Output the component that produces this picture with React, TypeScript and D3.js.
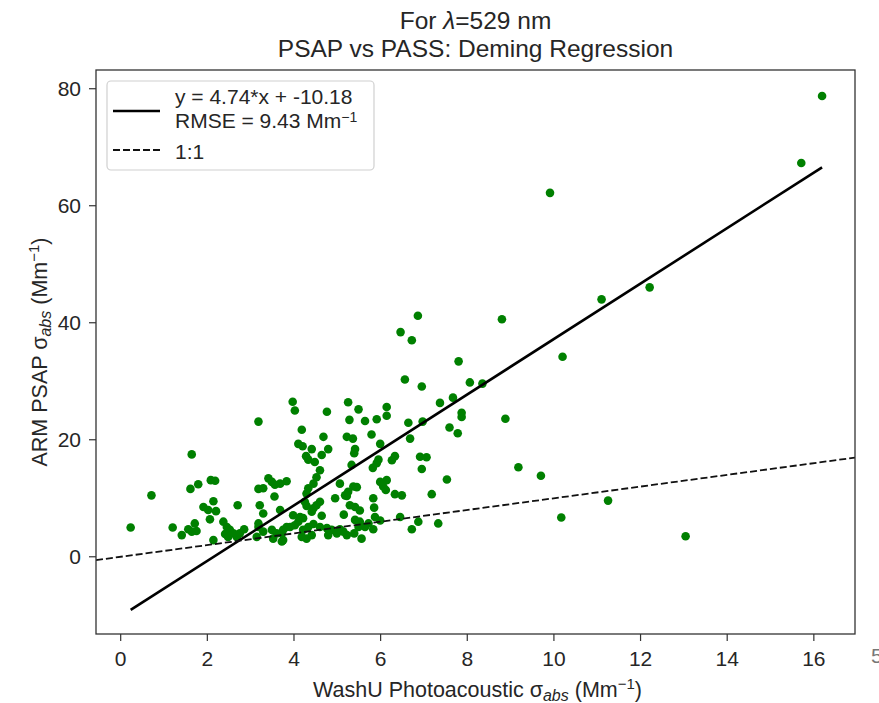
import React from "react";
import * as d3 from "d3";

// ---------- data (WashU Photoacoustic σabs, ARM PSAP σabs) ----------
const washuX: number[] = [
  3.18, 1.64, 0.71, 0.23, 1.61, 1.79, 2.08, 2.18, 2.14, 1.91, 2.02, 2.2, 2.06, 2.7, 1.2, 1.41, 1.56, 1.71, 1.75, 1.64,
  2.14, 2.37, 2.45, 2.52, 2.6, 2.68, 2.41, 2.48, 2.75, 2.85, 3.21, 3.29, 3.18, 3.41, 3.49, 3.56, 3.29, 3.18, 3.55, 3.68,
  3.6, 3.49, 3.72, 3.52, 3.14, 3.18, 3.29,
  6.56, 6.95, 8.06, 3.97, 4.02, 5.25, 5.49, 6.14, 6.14, 7.37, 7.67, 7.87, 7.87, 4.76, 5.28, 5.64, 5.91, 6.64, 6.97, 7.59,
  7.78, 4.18, 4.68, 5.22, 5.36, 5.79, 6.68, 4.1, 4.2, 4.41, 4.79, 4.64, 4.28, 4.33, 4.48, 5.41, 5.39, 5.99, 6.33, 6.26,
  5.95, 5.91, 5.82, 6.91, 7.06, 6.95, 5.33, 4.6, 4.52, 4.45, 4.33, 4.29, 3.68, 3.83, 5.06, 5.37, 5.25, 5.18, 5.99, 6.14,
  6.06, 6.12, 6.33, 6.49, 7.53, 7.18, 5.83, 4.95, 4.25, 4.29, 4.6, 4.52, 4.45, 4.41, 5.22, 5.45, 5.29, 5.41, 5.52, 5.85,
  5.87, 5.15, 4.64, 3.98, 4.14, 4.21, 4.1, 4.02, 3.91, 3.83, 3.75, 4.45, 4.33, 4.6, 4.76, 4.87, 4.79, 4.99, 5.06, 5.14,
  5.41, 5.52, 5.49, 5.64, 5.72, 5.99, 5.83, 5.39, 5.56, 5.22, 6.72, 6.87, 7.33, 6.45, 3.75, 3.72, 4.18, 4.29, 4.41, 4.21,
  6.86, 6.46, 6.72, 7.8, 8.35, 8.88, 9.18, 9.7, 11.25, 10.17, 13.04, 12.21, 11.1, 8.8, 10.2, 9.91, 15.71, 16.19,
];
const psapY: number[] = [
  23.1, 17.5, 10.5, 5.0, 11.6, 12.4, 13.1, 13.0, 9.5, 8.5, 8.0, 7.8, 6.4, 8.8, 5.0, 3.7, 4.7, 5.7, 4.4, 4.3,
  2.85, 6.0, 5.1, 4.6, 4.0, 3.4, 3.9, 3.4, 4.0, 4.7, 8.8, 7.4, 5.7, 13.4, 12.8, 12.3, 11.7, 11.6, 10.3, 8.0,
  4.0, 4.6, 2.6, 3.1, 3.4, 5.1, 4.3,
  30.3, 29.1, 29.8, 26.5, 25.0, 26.4, 25.2, 25.6, 24.1, 26.3, 27.2, 24.6, 23.9, 24.8, 23.4, 23.2, 23.5, 22.9, 23.1, 22.1,
  21.1, 21.7, 20.5, 20.5, 20.2, 20.9, 20.2, 19.3, 18.9, 18.4, 18.4, 17.4, 17.2, 16.6, 16.2, 18.4, 17.7, 19.3, 17.2, 16.5,
  16.6, 16.0, 15.2, 17.1, 17.0, 15.0, 15.7, 14.8, 13.6, 12.5, 11.7, 10.8, 12.5, 12.9, 12.5, 12.0, 11.1, 10.5, 12.8, 13.1,
  12.0, 11.4, 10.7, 10.5, 13.2, 10.7, 10.0, 10.0, 9.4, 8.7, 9.4, 8.8, 8.3, 7.7, 10.4, 11.9, 8.8, 8.5, 7.9, 8.4,
  6.8, 7.2, 7.0, 7.1, 6.8, 6.6, 6.0, 5.4, 5.1, 5.1, 4.6, 5.6, 5.1, 5.1, 4.9, 4.6, 3.7, 4.0, 4.7, 4.3,
  6.3, 6.0, 5.1, 5.1, 5.7, 6.2, 4.7, 4.0, 3.1, 3.7, 4.7, 6.0, 5.7, 6.8, 2.85, 4.0, 3.4, 3.1, 3.7, 4.6,
  41.2, 38.4, 37.0, 33.4, 29.6, 23.6, 15.3, 13.85, 9.6, 6.7, 3.5, 46.05, 44.0, 40.6, 34.2, 62.2, 67.3, 78.75,
];

const fitSlope = 4.74;
const fitIntercept = -10.18;
const rmseValue = 9.43;

const xTicks: number[] = [0, 2, 4, 6, 8, 10, 12, 14, 16];
const yTicks: number[] = [0, 20, 40, 60, 80];
const xDomain: [number, number] = [-0.57, 16.95];
const yDomain: [number, number] = [-13.2, 83.2];

const titleLine1 = "For ";
const titleLine2 = "PSAP vs PASS: Deming Regression";

// ---------- layout ----------
const W = 879;
const H = 703;
const L = 96;
const R = 855;
const T = 70;
const B = 634;
const FONT = "'Liberation Sans', Arial, Helvetica, sans-serif";
const TXT = "#262626";
const FS = 21;

export default function App() {
  const x = d3.scaleLinear().domain(xDomain).range([L, R]);
  const y = d3.scaleLinear().domain(yDomain).range([B, T]);

  const points = washuX.map((v, i) => ({ x: v, y: psapY[i] }));
  const [xmin, xmax] = d3.extent(washuX) as [number, number];
  const fitLine = d3.line<number>()
    .x((d) => x(d))
    .y((d) => y(fitSlope * d + fitIntercept))([xmin, xmax]) as string;
  const oneLine = d3.line<number>()
    .x((d) => x(d))
    .y((d) => y(d))(xDomain) as string;

  const cx = (L + R) / 2;

  return (
    <svg
      width={W}
      height={H}
      style={{ position: "absolute", left: 0, top: 0, background: "#fff" }}
      fontFamily={FONT}
    >
      <rect x={0} y={0} width={W} height={H} fill="#fff" />
      {/* title */}
      <text x={cx} y={29} textAnchor="middle" fontSize={24.5} fill={TXT}>
        {titleLine1}
        <tspan fontStyle="italic">λ</tspan>
        =529 nm
      </text>
      <text x={cx} y={57} textAnchor="middle" fontSize={24.5} fill={TXT}>
        {titleLine2}
      </text>

      <defs>
        <clipPath id="plotclip">
          <rect x={L} y={T} width={R - L} height={B - T} />
        </clipPath>
      </defs>

      <g clipPath="url(#plotclip)">
        {points.map((p, i) => (
          <circle key={i} cx={x(p.x)} cy={y(p.y)} r={4.3} fill="#008000" />
        ))}
        <path d={fitLine} stroke="#000" strokeWidth={2.6} fill="none" />
        <path d={oneLine} stroke="#111" strokeWidth={1.8} strokeDasharray="7,3" fill="none" />
      </g>

      {/* frame */}
      <rect x={L} y={T} width={R - L} height={B - T} fill="none" stroke="#333" strokeWidth={1.3} />

      {/* x ticks */}
      {xTicks.map((t) => (
        <g key={"x" + t}>
          <line x1={x(t)} x2={x(t)} y1={B} y2={B + 7} stroke="#333" strokeWidth={1.2} />
          <text x={x(t)} y={666} textAnchor="middle" fontSize={FS} fill={TXT}>
            {t}
          </text>
        </g>
      ))}
      {/* y ticks */}
      {yTicks.map((t) => (
        <g key={"y" + t}>
          <line x1={L - 7} x2={L} y1={y(t)} y2={y(t)} stroke="#333" strokeWidth={1.2} />
          <text x={81} y={y(t) + 7.5} textAnchor="end" fontSize={FS} fill={TXT}>
            {t}
          </text>
        </g>
      ))}

      {/* axis labels */}
      <text x={cx + 2} y={697} textAnchor="middle" fontSize={21.5} fill={TXT}>
        WashU Photoacoustic σ
        <tspan fontStyle="italic" fontSize={16} dy={4}>abs</tspan>
        <tspan dy={-4}> (Mm</tspan>
        <tspan fontSize={15} dy={-8}>−1</tspan>
        <tspan dy={8}>)</tspan>
      </text>
      <text
        transform={`translate(47,${(T + B) / 2}) rotate(-90)`}
        textAnchor="middle"
        fontSize={21.5}
        fill={TXT}
      >
        ARM PSAP σ
        <tspan fontStyle="italic" fontSize={16} dy={4}>abs</tspan>
        <tspan dy={-4}> (Mm</tspan>
        <tspan fontSize={15} dy={-8}>−1</tspan>
        <tspan dy={8}>)</tspan>
      </text>

      {/* legend */}
      <rect x={107} y={81} width={267} height={89} rx={4} fill="#fff" fillOpacity={0.8} stroke="#d0d0d0" strokeWidth={1.2} />
      <line x1={113} x2={160} y1={111} y2={111} stroke="#000" strokeWidth={2.6} />
      <text x={175} y={104} fontSize={FS} fill={TXT}>
        y = {fitSlope}*x + {fitIntercept}
      </text>
      <text x={175} y={128} fontSize={FS} fill={TXT}>
        RMSE = {rmseValue} Mm
        <tspan fontSize={14} dy={-6}>−1</tspan>
      </text>
      <line x1={113} x2={160} y1={150} y2={150} stroke="#111" strokeWidth={1.8} strokeDasharray="7,3" />
      <text x={175} y={159} fontSize={FS} fill={TXT}>
        1:1
      </text>

      {/* stray glyph partly cropped at the right edge, as in the reference */}
      <text x={871} y={663} fontSize={21} fill="#777">
        5
      </text>
    </svg>
  );
}
